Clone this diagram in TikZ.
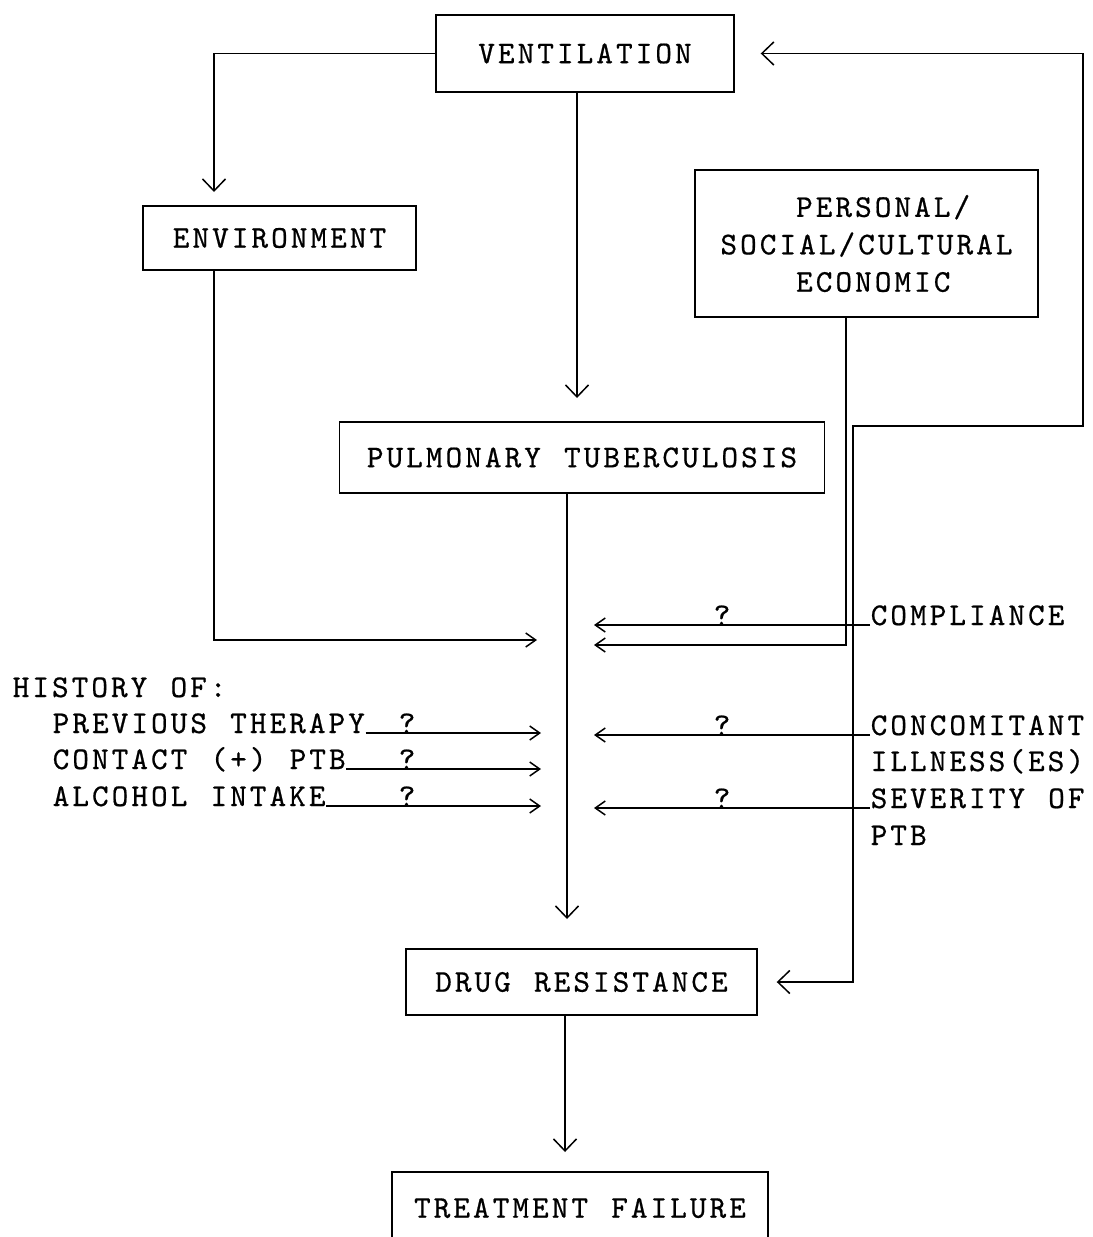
\documentclass[tikz,border=0pt]{standalone}
\usepackage{fontspec}
\usepackage{tikz}
\usetikzlibrary{arrows.meta,positioning,calc}
\newfontfamily\courfont{lmmono10-regular.otf}[LetterSpace=9.7,WordSpace=1.18,FakeBold=0.6]
\tikzset{
  flowbox/.style={draw, line width=0.85pt, inner sep=0pt, align=center},
  sidelbl/.style={inner sep=0pt, anchor=base west},
  qmark/.style={inner sep=0pt, anchor=base},
  bigtip/.style={-{Straight Barb[length=2.4mm,width=4.6mm]}},
  smalltip/.style={-{Straight Barb[length=2mm,width=2.8mm]}},
  fbloop/.style={{Straight Barb[length=2.4mm,width=4.6mm]}-{Straight Barb[length=2.4mm,width=4.6mm]}},
}
\begin{document}
\begin{tikzpicture}[x=0.02cm, y=-0.02cm, line width=0.85pt,
    font=\courfont\fontsize{18}{21.3}\selectfont]
  \useasboundingbox (0,0) rectangle (1092,1237);
  % boxes
  \node[flowbox, minimum width=5.96cm, minimum height=1.54cm] (vent) at (585,53.5) {VENTILATION};
  \node[flowbox, minimum width=5.46cm, minimum height=1.28cm] (env) at (279.5,238) {ENVIRONMENT};
  \node[flowbox, minimum width=6.86cm, minimum height=2.94cm, align=left] (psce) at (866.5,243.5)
    {\phantom{XXXX}PERSONAL/\\SOCIAL/CULTURAL\\\phantom{XXXX}ECONOMIC};
  \node[flowbox, minimum width=9.7cm, minimum height=1.42cm] (ptb) at (582,457.5) {PULMONARY TUBERCULOSIS};
  \node[flowbox, minimum width=7.02cm, minimum height=1.32cm] (dr) at (581.5,982) {DRUG RESISTANCE};
  \node[flowbox, minimum width=7.52cm, minimum height=1.44cm] (tf) at (580,1208) {TREATMENT FAILURE};
  % side factors
  \node[sidelbl] (compl) at (870,625) {COMPLIANCE};
  \node[sidelbl] (conc)  at (870,735) {CONCOMITANT};
  \node[sidelbl] (ill)   at (870,771) {ILLNESS(ES)};
  \node[sidelbl] (sev)   at (870,808) {SEVERITY OF};
  \node[sidelbl] (sevb)  at (870,845) {PTB};
  \node[sidelbl] (hist)  at (12,697)  {HISTORY OF:};
  \node[sidelbl] (prev)  at (52,733)  {PREVIOUS THERAPY};
  \node[sidelbl] (cont)  at (52,769)  {CONTACT (+) PTB};
  \node[sidelbl] (alc)   at (52,806)  {ALCOHOL INTAKE};
  % arrow ends
  \coordinate (envin)    at (214,192);
  \coordinate (envout)   at (537,640);
  \coordinate (ptbin)    at (577,398);
  \coordinate (drin)     at (567,919);
  \coordinate (tfin)     at (565,1152);
  \coordinate (pscedrop) at (846,645);
  \coordinate (rightin)  at (594,0);
  \coordinate (leftin)   at (541,0);
  \coordinate (qleft)    at (407,0);
  \coordinate (qright)   at (722,0);
  \coordinate (fbturn)   at (853,426);
  \coordinate (fbtop)    at (1083,426);
  % main flow
  \draw[bigtip] (vent.west) -| (envin);
  \draw[bigtip] (vent.south -| ptbin) -- (ptbin);
  \draw[smalltip] (env.south -| envin) |- (envout);
  \draw[bigtip] (ptb.south -| drin) -- (drin);
  \draw[bigtip] (dr.south -| tfin) -- (tfin);
  \draw[smalltip] (psce.south -| pscedrop) -- (pscedrop) -- (pscedrop -| rightin);
  \draw[fbloop] ([xshift=0.38cm]dr.east) -| (fbturn) -- (fbtop) |- ([xshift=0.52cm]vent.east);
  % factors with ?
  \foreach \n in {prev,cont,alc} {
    \draw[smalltip] (\n.base east) -- (\n.base east -| leftin);
    \node[qmark] at (\n.base east -| qleft) {?};
  }
  \foreach \n in {compl,conc,sev} {
    \draw[smalltip] (\n.base west) -- (\n.base west -| rightin);
    \node[qmark] at (\n.base west -| qright) {?};
  }
\end{tikzpicture}
\end{document}
